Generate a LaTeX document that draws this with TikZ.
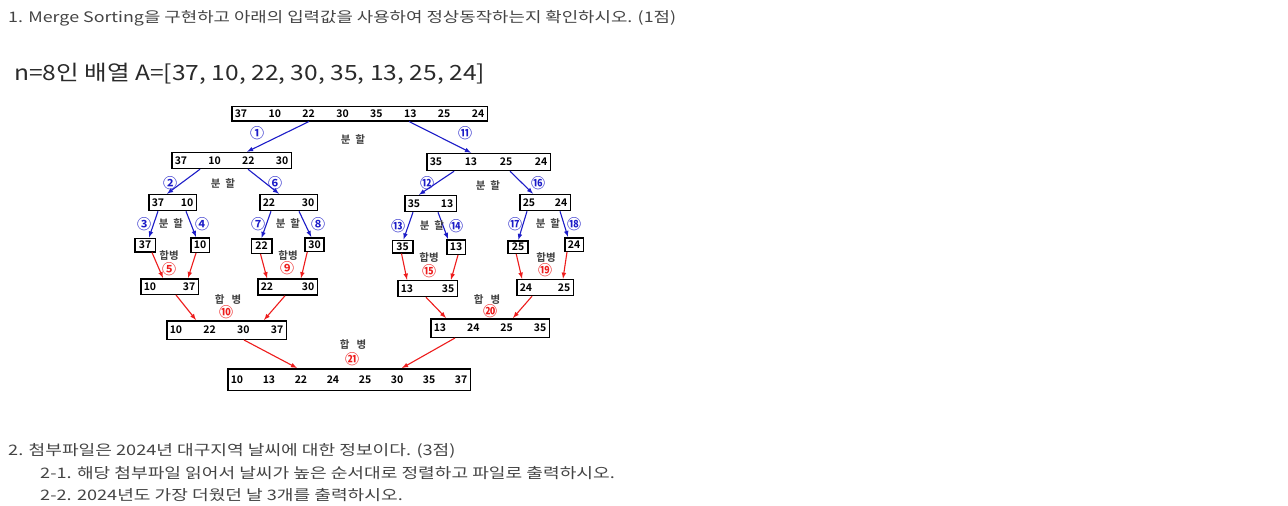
\documentclass[tikz,border=0pt]{standalone}
\usepackage{fontspec}
\setmainfont{Noto Sans CJK KR}[BoldFont={Noto Sans CJK KR Bold}]
\definecolor{txt}{HTML}{444444}
\definecolor{txtdark}{HTML}{2A2A2A}
\definecolor{blu}{HTML}{1C1CC8}
\definecolor{rd}{HTML}{EE1C1C}
\tikzset{
  numbox/.style 2 args={draw, line width=1.5pt, inner xsep=3pt, inner ysep=0pt, text width=#1, minimum height=#2, align=center, font=\bfseries\fontsize{10.5}{10.5}\selectfont},
  lbl/.style={font=\bfseries\fontsize{10.5}{10.5}\selectfont, text=black!75, inner sep=0pt},
  cb/.style={font=\bfseries\fontsize{14}{14}\selectfont, text=blu, inner sep=0pt},
  cr/.style={font=\bfseries\fontsize{14}{14}\selectfont, text=rd, inner sep=0pt},
  line/.style={anchor=west, inner sep=0pt, text=txt, font=\fontsize{14.5}{14.5}\selectfont},
  div/.style={->, blu, line width=1.1pt},
  mrg/.style={->, rd, line width=1.1pt},
}
\begin{document}
\begin{tikzpicture}[x=1pt,y=-1pt,>=latex]
\useasboundingbox[fill=white] (0,0) rectangle (1288,506);
\node[line] (q1) at (8,18) {\addfontfeature{FakeStretch=1.23}1. Merge Sorting을 구현하고 아래의 입력값을 사용하여 정상동작하는지 확인하시오. (1점)};
\node[line, text=txtdark, font=\fontsize{21}{21}\selectfont] (arr) at (14,74) {\addfontfeature{FakeStretch=1.17}n=8인 배열 A=[37, 10, 22, 30, 35, 13, 25, 24]};

\node[numbox={249.5pt}{14.5pt}] (t) at (359.5,113.5) {37\hfill 10\hfill 22\hfill 30\hfill 35\hfill 13\hfill 25\hfill 24};
\node[numbox={113.5pt}{16pt}] (a) at (231.5,160.5) {37\hfill 10\hfill 22\hfill 30};
\node[numbox={117.5pt}{17pt}] (b) at (488.5,162) {35\hfill 13\hfill 25\hfill 24};
\node[numbox={41.5pt}{16pt}] (c1) at (172.5,202.5) {37\hfill 10};
\node[numbox={51.5pt}{16pt}] (c2) at (288.5,202.5) {22\hfill 30};
\node[numbox={45.5pt}{16pt}] (c3) at (430.5,203.5) {35\hfill 13};
\node[numbox={44.5pt}{16pt}] (c4) at (545,202.5) {25\hfill 24};
\node[numbox={14.5pt}{13.5pt}] (s1) at (145,245) {37};
\node[numbox={12.5pt}{14.5pt}] (s2) at (200,245) {10};
\node[numbox={14.5pt}{14.5pt}] (s3) at (261.5,246) {22};
\node[numbox={13pt}{13.5pt}] (s4) at (314.5,244.5) {30};
\node[numbox={14.5pt}{12.5pt}] (s5) at (402.5,246.5) {35};
\node[numbox={12.5pt}{14.5pt}] (s6) at (456,247) {13};
\node[numbox={14pt}{12.5pt}] (s7) at (518,247) {25};
\node[numbox={12.5pt}{13.5pt}] (s8) at (574,244.5) {24};
\node[numbox={51.5pt}{15.5pt}] (m1) at (169.5,286.5) {10\hfill 37};
\node[numbox={53.5pt}{16pt}] (m2) at (287.5,287) {22\hfill 30};
\node[numbox={53.5pt}{16pt}] (m3) at (427.5,288.5) {13\hfill 35};
\node[numbox={50.5pt}{16pt}] (m4) at (545,287.5) {24\hfill 25};
\node[numbox={113.5pt}{18.5pt}] (n1) at (226.5,330) {10\hfill 22\hfill 30\hfill 37};
\node[numbox={112.5pt}{18.5pt}] (n2) at (490,328) {13\hfill 24\hfill 25\hfill 35};
\node[numbox={236.5pt}{21.5pt}] (f) at (349,379.5) {10\hfill 13\hfill 22\hfill 24\hfill 25\hfill 30\hfill 35\hfill 37};

\draw[div] ([xshift=78pt]t.south west) -- ([xshift=76pt]a.north west);
\draw[div] ([xshift=178pt]t.south west) -- ([xshift=45pt]b.north west);
\draw[div] ([xshift=29pt]a.south west) -- ([xshift=19pt]c1.north west);
\draw[div] ([xshift=77pt]a.south west) -- ([xshift=20pt]c2.north west);
\draw[div] ([xshift=28pt]b.south west) -- ([xshift=15pt]c3.north west);
\draw[div] ([xshift=84pt]b.south west) -- ([xshift=14pt]c4.north west);
\draw[div] ([xshift=10pt]c1.south west) -- ([xshift=15pt]s1.north west);
\draw[div] ([xshift=38pt]c1.south west) -- ([xshift=6pt]s2.north west);
\draw[div] ([xshift=12pt]c2.south west) -- ([xshift=11pt]s3.north west);
\draw[div] ([xshift=40pt]c2.south west) -- ([xshift=7pt]s4.north west);
\draw[div] ([xshift=9pt]c3.south west) -- ([xshift=12pt]s5.north west);
\draw[div] ([xshift=34pt]c3.south west) -- ([xshift=2pt]s6.north west);
\draw[div] ([xshift=8pt]c4.south west) -- ([xshift=11pt]s7.north west);
\draw[div] ([xshift=41pt]c4.south west) -- ([xshift=4pt]s8.north west);

\draw[mrg] ([xshift=18pt]s1.south west) -- ([xshift=23pt]m1.north west);
\draw[mrg] ([xshift=6pt]s2.south west) -- ([xshift=48pt]m1.north west);
\draw[mrg] ([xshift=10pt]s3.south west) -- ([xshift=10pt]m2.north west);
\draw[mrg] ([xshift=3pt]s4.south west) -- ([xshift=44pt]m2.north west);
\draw[mrg] ([xshift=10pt]s5.south west) -- ([xshift=10pt]m3.north west);
\draw[mrg] ([xshift=12pt]s6.south west) -- ([xshift=54pt]m3.north west);
\draw[mrg] ([xshift=9pt]s7.south west) -- ([xshift=6pt]m4.north west);
\draw[mrg] ([xshift=3pt]s8.south west) -- ([xshift=47pt]m4.north west);
\draw[mrg] ([xshift=36pt]m1.south west) -- ([xshift=30pt]n1.north west);
\draw[mrg] ([xshift=28pt]m2.south west) -- ([xshift=98pt]n1.north west);
\draw[mrg] ([xshift=29pt]m3.south west) -- ([xshift=16pt]n2.north west);
\draw[mrg] ([xshift=16pt]m4.south west) -- ([xshift=83pt]n2.north west);
\draw[mrg] ([xshift=78pt]n1.south west) -- ([xshift=70pt]f.north west);
\draw[mrg] ([xshift=25pt]n2.south west) -- ([xshift=175pt]f.north west);

\node[cb] (k1) at (257,133) {①};
\node[cb] (k11) at (465,133) {⑪};
\node[lbl] (d0) at (353,140) {분 \ 할};
\node[cb] (k2) at (170,183) {②};
\node[lbl] (d1) at (223,184) {분 \ 할};
\node[cb] (k6) at (275,183) {⑥};
\node[cb] (k12) at (427,183) {⑫};
\node[lbl] (d2) at (488,186) {분 \ 할};
\node[cb] (k16) at (538,183) {⑯};
\node[cb] (k3) at (144,224) {③};
\node[lbl] (d3) at (171,224) {분 \ 할};
\node[cb] (k4) at (202,224) {④};
\node[cb] (k7) at (258,224) {⑦};
\node[lbl] (d4) at (288,224) {분 \ 할};
\node[cb] (k8) at (318,224) {⑧};
\node[cb] (k13) at (398,226) {⑬};
\node[lbl] (d5) at (432,226) {분 \ 할};
\node[cb] (k14) at (456,226) {⑭};
\node[cb] (k17) at (515,224) {⑰};
\node[lbl] (d6) at (548,224) {분 \ 할};
\node[cb] (k18) at (574,224) {⑱};

\node[lbl] (h1) at (169,256) {합병};
\node[cr] (k5) at (169,269) {⑤};
\node[lbl] (h2) at (288,256) {합병};
\node[cr] (k9) at (287,268) {⑨};
\node[lbl] (h3) at (429,258) {합병};
\node[cr] (k15) at (429,271) {⑮};
\node[lbl] (h4) at (546,258) {합병};
\node[cr] (k19) at (545,270) {⑲};
\node[lbl] (h5) at (228,300) {합 \ \ 병};
\node[cr] (k10) at (226,312) {⑩};
\node[lbl] (h6) at (487,300) {합 \ \ 병};
\node[cr] (k20) at (490,311) {⑳};
\node[lbl] (h7) at (353,345) {합 \ \ 병};
\node[cr] (k21) at (352,359) {㉑};

\node[line] (q2) at (8,451) {\addfontfeature{FakeStretch=1.25}2. 첨부파일은 2024년 대구지역 날씨에 대한 정보이다. (3점)};
\node[line] (q21) at (40,473) {\addfontfeature{FakeStretch=1.25}2-1. 해당 첨부파일 읽어서 날씨가 높은 순서대로 정렬하고 파일로 출력하시오.};
\node[line] (q22) at (40,495) {\addfontfeature{FakeStretch=1.25}2-2. 2024년도 가장 더웠던 날 3개를 출력하시오.};
\end{tikzpicture}
\end{document}
